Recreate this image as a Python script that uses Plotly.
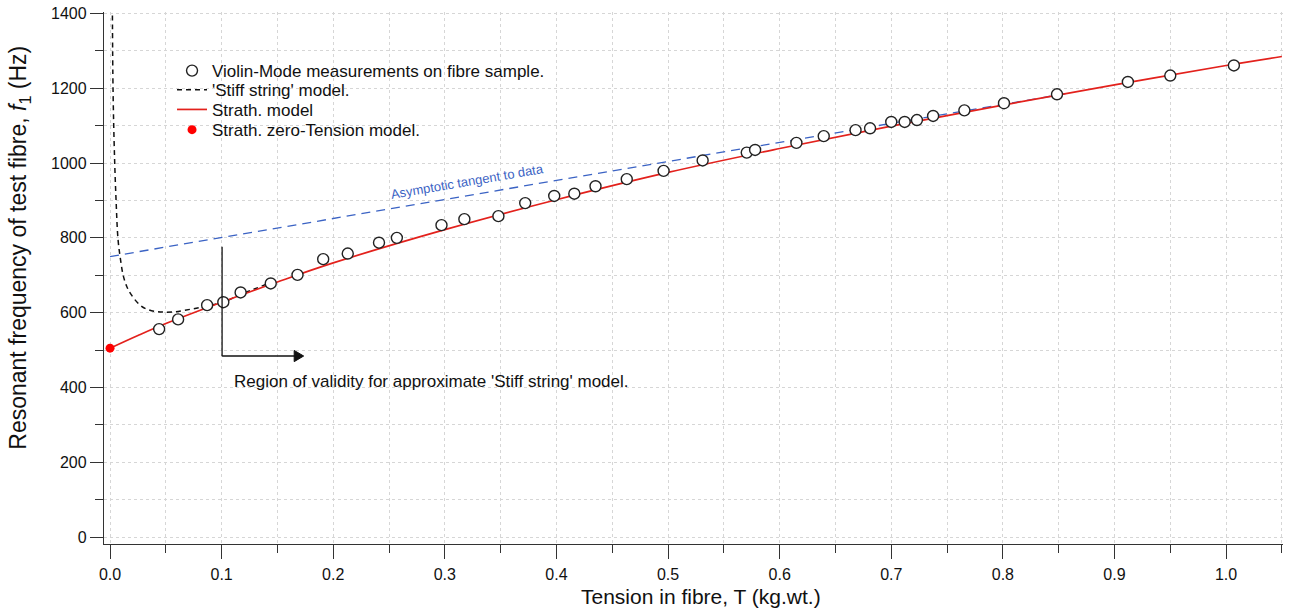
import plotly.graph_objects as go

# ---- data ----
meas_T = [0.044, 0.061, 0.087, 0.1015, 0.117, 0.144, 0.168, 0.191, 0.213, 0.241, 0.257,
          0.297, 0.3175, 0.348, 0.372, 0.398, 0.416, 0.435, 0.463, 0.496, 0.531, 0.5705,
          0.578, 0.615, 0.6395, 0.668, 0.681, 0.700, 0.712, 0.723, 0.7375, 0.7655, 0.801,
          0.8485, 0.912, 0.950, 1.007]
meas_f = [556, 582, 620, 628, 654, 678, 701, 743, 758, 787, 800,
          834, 850, 858, 893, 912, 918, 938, 957, 979, 1007, 1028,
          1035, 1054, 1072, 1088, 1093, 1110, 1110, 1115, 1126, 1141, 1160,
          1184, 1217, 1234, 1261]

strath_T = [0.0, 0.025, 0.05, 0.1, 0.15, 0.2, 0.3, 0.4, 0.5, 0.6, 0.7, 0.8, 0.9, 1.0, 1.05]
strath_f = [505, 539, 571, 628, 682, 733, 822, 902, 975, 1039, 1099, 1155, 1209, 1261, 1285]

stiff_T = [0.0021, 0.0027, 0.0040, 0.0054, 0.0072, 0.0095, 0.0117, 0.015, 0.019, 0.027,
           0.035, 0.045, 0.057, 0.072, 0.087, 0.102, 0.118, 0.130, 0.140]
stiff_f = [1420, 1196, 1020, 902, 795, 740, 701, 670, 648, 620,
           607, 602, 602, 609, 618, 629, 650, 664, 676]

tangent_T = [0.0, 0.861]
tangent_f = [750, 1188]

zero_T = [0.0]
zero_f = [505]

x_ticks = [0.0, 0.1, 0.2, 0.3, 0.4, 0.5, 0.6, 0.7, 0.8, 0.9, 1.0]
x_ticklabels = ["0.0", "0.1", "0.2", "0.3", "0.4", "0.5", "0.6", "0.7", "0.8", "0.9", "1.0"]
y_ticks = [0, 200, 400, 600, 800, 1000, 1200, 1400]

# annotation geometry (data units)
VALID_T0 = 0.1004
VALID_T1 = 0.1735
VALID_F_TOP = 776
VALID_F_ARROW = 484

FONT = "Liberation Sans, Arial, sans-serif"
RED = "#e3211c"
BLUE = "#3b63c4"
GRID = "#d6d6d6"
INK = "#111111"

fig = go.Figure()

fig.add_trace(go.Scatter(x=tangent_T, y=tangent_f, mode="lines", showlegend=False,
                         line=dict(color=BLUE, width=1.3, dash="9px,6px"), hoverinfo="skip"))
fig.add_trace(go.Scatter(x=stiff_T, y=stiff_f, mode="lines", name="'Stiff string' model.",
                         line=dict(color=INK, width=1.5, dash="5px,4px", shape="spline"),
                         legend="legend2"))
fig.add_trace(go.Scatter(x=strath_T, y=strath_f, mode="lines", name="Strath. model",
                         line=dict(color=RED, width=1.7, shape="spline"), legend="legend3"))
fig.add_trace(go.Scatter(x=zero_T, y=zero_f, mode="markers", name="Strath. zero-Tension model.",
                         marker=dict(color="#ff0000", size=9), cliponaxis=False, legend="legend4"))
fig.add_trace(go.Scatter(x=meas_T, y=meas_f, mode="markers",
                         name="Violin-Mode measurements on fibre sample.",
                         marker=dict(symbol="circle", color="white", size=11,
                                     line=dict(color="#222222", width=1.4)),
                         legend="legend"))

# annotation: region of validity (bracket line + arrow)
fig.add_shape(type="line", xref="x", yref="y", x0=VALID_T0, x1=VALID_T0,
              y0=VALID_F_ARROW, y1=VALID_F_TOP, line=dict(color=INK, width=1.3))
fig.add_shape(type="line", xref="x", yref="y", x0=VALID_T0, x1=VALID_T1 - 0.006,
              y0=VALID_F_ARROW, y1=VALID_F_ARROW, line=dict(color=INK, width=1.3))
fig.add_shape(type="path", xref="x", yref="y",
              path=f"M {VALID_T1-0.0085},{VALID_F_ARROW+15} L {VALID_T1},{VALID_F_ARROW} "
                   f"L {VALID_T1-0.0085},{VALID_F_ARROW-15} Z",
              fillcolor=INK, line=dict(color=INK, width=1))
fig.add_annotation(x=0.1093, y=417, xref="x", yref="y", xanchor="left", yanchor="middle",
                   text="Region of validity for approximate 'Stiff string' model.",
                   showarrow=False, font=dict(family=FONT, size=17, color=INK))
fig.add_annotation(x=0.3203, y=950, xref="x", yref="y", text="Asymptotic tangent to data",
                   showarrow=False, textangle=-9.7, font=dict(family=FONT, size=13, color=BLUE))

# axis titles (placed as in the reference)
fig.add_annotation(x=0.5064, y=-0.0987, xref="paper", yref="paper", xanchor="center",
                   yanchor="middle", showarrow=False, text="Tension in fibre, T (kg.wt.)",
                   font=dict(family=FONT, size=21, color=INK), borderpad=0)
fig.add_annotation(x=-0.0712, y=0.557, xref="paper", yref="paper", xanchor="center",
                   yanchor="middle", showarrow=False, textangle=-90,
                   text="Resonant frequency of test fibre, <i>f</i><sub>1</sub> (Hz)",
                   font=dict(family=FONT, size=23, color=INK))

axis_common = dict(showline=True, linecolor="#333333", linewidth=1.3, ticks="outside",
                   tickcolor="#333333", tickwidth=1.2, zeroline=False,
                   showgrid=True, gridcolor=GRID, griddash="dot", gridwidth=1,
                   tickfont=dict(family=FONT, size=16, color=INK))

fig.update_xaxes(range=[-0.0054, 1.051], tickvals=x_ticks, ticktext=x_ticklabels, ticklen=14,
                 ticklabelstandoff=2,
                 minor=dict(dtick=0.05, tick0=0, ticks="outside", ticklen=8, tickcolor="#333333",
                            tickwidth=1.2, showgrid=True, gridcolor=GRID, griddash="dot"),
                 **axis_common)
fig.update_yaxes(range=[-18.7, 1404], tickvals=y_ticks, ticklen=13,
                 minor=dict(dtick=100, tick0=0, ticks="outside", ticklen=8, tickcolor="#333333",
                            tickwidth=1.2, showgrid=True, gridcolor=GRID, griddash="dot"),
                 **axis_common)

def legend_box(ypos):
    return dict(x=0.0577, y=ypos, xanchor="left", yanchor="middle",
                bgcolor="rgba(255,255,255,0)", itemwidth=30,
                font=dict(family=FONT, size=17, color=INK))

fig.update_layout(
    width=1293, height=610,
    margin=dict(l=104, r=10, t=12, b=66, autoexpand=False),
    paper_bgcolor="white", plot_bgcolor="white",
    font=dict(family=FONT, color=INK),
    legend=legend_box(0.889),
    legend2=legend_box(0.853),
    legend3=legend_box(0.816),
    legend4=legend_box(0.778),
    showlegend=True,
)

fig.write_html("out.html", config={"displayModeBar": False},
               post_script="document.body.style.margin='0';")
